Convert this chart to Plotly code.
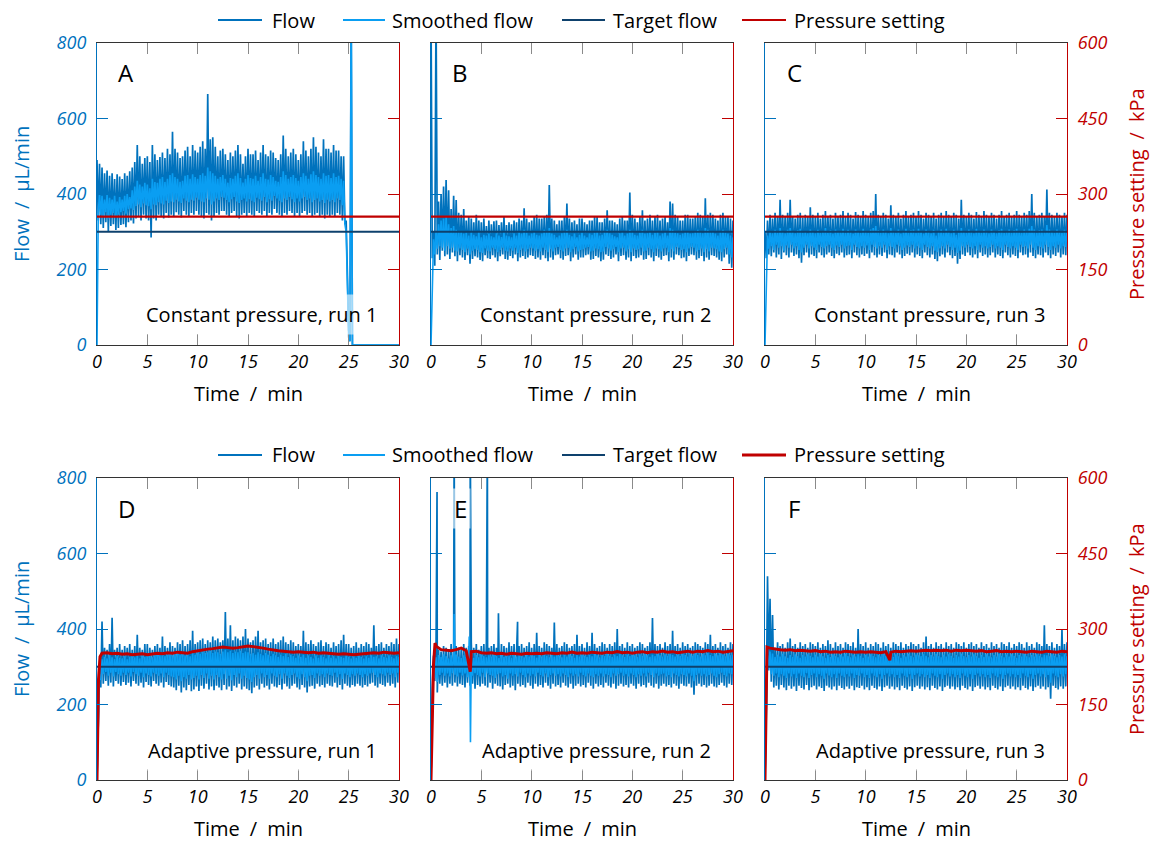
import plotly.graph_objects as go

# ---------------------------------------------------------------------------
# Sampled traces (flow in µL/min, pressure in kPa, time in min).
# Noisy flow signals are stored as alternating peak readings ("hi", every
# 0.25 min from 0) and trough readings ("lo", every 0.25 min from 0.125),
# plus a few isolated spikes ("ev") at their own times.
# ---------------------------------------------------------------------------
t_hi = [0.25 * i for i in range(121)]
t_lo = [0.125 + 0.25 * i for i in range(120)]
t_press = [0.5 * (i + 1) for i in range(60)]
t_span = [0, 30]

# --- A: constant pressure, run 1 ---
a_flow_hi = [490, 480, 470, 455, 462, 448, 455, 440, 452, 446,
             440, 455, 448, 460, 470, 485, 530, 500, 480, 495,
             500, 485, 530, 505, 490, 498, 510, 495, 520, 505,
             565, 520, 510, 495, 500, 515, 525, 500, 530, 515,
             510, 525, 540, 520, 665, 545, 550, 525, 500, 515,
             520, 505, 490, 510, 500, 515, 530, 505, 480, 500,
             520, 505, 505, 515, 490, 510, 530, 505, 500, 515,
             510, 495, 490, 505, 555, 520, 500, 510, 520, 505,
             490, 505, 540, 515, 500, 520, 550, 525, 510, 500,
             545, 520, 520, 510, 530, 515, 515, 500, 500, 330,
             40, 900, 0, 0, 0, 0, 0, 0, 0, 0,
             0, 0, 0, 0, 0, 0, 0, 0, 0, 0, 0]
a_flow_lo = [330, 320, 310, 325, 300, 315, 320, 305, 310, 318,
             320, 312, 325, 330, 322, 335, 340, 330, 345, 335,
             330, 285, 335, 330, 345, 340, 335, 350, 338, 345,
             340, 352, 345, 338, 355, 345, 340, 350, 345, 355,
             345, 340, 335, 350, 345, 330, 340, 350, 345, 355,
             355, 345, 340, 350, 355, 340, 335, 345, 350, 340,
             350, 345, 340, 355, 350, 345, 355, 340, 350, 345,
             360, 350, 345, 340, 350, 345, 355, 350, 340, 350,
             340, 350, 355, 345, 350, 340, 345, 350, 340, 345,
             335, 345, 340, 345, 340, 350, 345, 330, 320, 200,
             10, 0, 0, 0, 0, 0, 0, 0, 0, 0,
             0, 0, 0, 0, 0, 0, 0, 0, 0, 0]
a_smooth_hi = [0, 400, 395, 385, 398, 390, 385, 395, 380, 392,
               385, 395, 400, 392, 410, 420, 435, 425, 420, 430,
               425, 415, 440, 432, 430, 440, 445, 432, 440, 450,
               455, 445, 440, 432, 435, 448, 450, 440, 452, 445,
               440, 450, 455, 448, 470, 460, 455, 448, 440, 445,
               450, 440, 430, 442, 440, 448, 455, 442, 430, 440,
               450, 442, 440, 448, 435, 445, 455, 440, 438, 450,
               445, 435, 432, 445, 460, 450, 440, 445, 450, 442,
               435, 445, 455, 448, 440, 452, 460, 450, 445, 440,
               455, 448, 450, 442, 455, 445, 448, 440, 435, 300,
               20, 900, 0, 0, 0, 0, 0, 0, 0, 0,
               0, 0, 0, 0, 0, 0, 0, 0, 0, 0, 0]
a_smooth_lo = [350, 345, 340, 352, 335, 345, 350, 340, 345, 352,
               355, 348, 360, 362, 358, 368, 372, 365, 375, 370,
               368, 360, 372, 370, 378, 375, 372, 382, 376, 380,
               378, 385, 380, 376, 388, 382, 378, 385, 382, 390,
               385, 380, 378, 388, 385, 372, 380, 388, 384, 392,
               390, 384, 378, 386, 392, 380, 376, 384, 388, 380,
               386, 382, 378, 390, 386, 382, 392, 378, 386, 382,
               395, 388, 382, 378, 388, 384, 392, 386, 378, 388,
               380, 388, 392, 384, 388, 378, 384, 388, 380, 384,
               376, 385, 380, 384, 378, 388, 384, 370, 320, 150,
               10, 0, 0, 0, 0, 0, 0, 0, 0, 0,
               0, 0, 0, 0, 0, 0, 0, 0, 0, 0]

# --- B: constant pressure, run 2 ---
b_flow_hi = [900, 300, 900, 380, 400, 420, 437, 410, 360, 395,
             384, 350, 345, 360, 330, 340, 335, 325, 345, 330,
             325, 335, 315, 330, 320, 328, 330, 318, 325, 340,
             318, 325, 320, 330, 325, 335, 330, 362, 335, 325,
             330, 340, 345, 335, 335, 340, 345, 424, 335, 330,
             320, 330, 330, 340, 375, 335, 325, 330, 320, 335,
             335, 325, 320, 330, 330, 340, 340, 325, 325, 335,
             357, 330, 330, 325, 320, 335, 340, 330, 330, 404,
             345, 335, 325, 340, 357, 330, 335, 345, 330, 340,
             345, 330, 335, 340, 325, 380, 375, 345, 340, 330,
             330, 345, 345, 335, 335, 340, 350, 345, 340, 389,
             345, 350, 345, 335, 330, 345, 350, 340, 340, 335, 330]
b_flow_lo = [230, 210, 240, 225, 250, 235, 240, 228, 245, 235,
             222, 238, 232, 225, 238, 215, 228, 235, 232, 225,
             222, 238, 230, 228, 238, 232, 222, 235, 240, 228,
             226, 236, 230, 240, 222, 232, 236, 228, 232, 238,
             236, 228, 232, 226, 238, 230, 222, 232, 226, 238,
             240, 230, 226, 236, 238, 222, 232, 240, 226, 232,
             232, 238, 240, 226, 228, 236, 232, 222, 226, 240,
             236, 228, 232, 240, 222, 236, 238, 226, 232, 222,
             236, 230, 232, 238, 226, 228, 238, 232, 222, 236,
             232, 226, 236, 238, 222, 232, 226, 240, 238, 230,
             232, 222, 236, 240, 238, 226, 230, 236, 222, 232,
             226, 238, 236, 232, 226, 222, 232, 240, 215, 205]
b_smooth_hi = [0, 280, 300, 320, 330, 335, 340, 320, 310, 315,
               305, 300, 302, 295, 298, 290, 300, 292, 288, 300,
               285, 292, 290, 295, 288, 285, 296, 290, 286, 300,
               290, 288, 285, 296, 290, 300, 295, 305, 298, 290,
               295, 300, 292, 290, 295, 305, 300, 310, 295, 292,
               285, 290, 296, 300, 305, 292, 288, 295, 285, 292,
               298, 290, 285, 295, 292, 298, 300, 290, 292, 300,
               305, 296, 292, 288, 285, 296, 300, 290, 295, 305,
               300, 292, 290, 298, 305, 295, 296, 300, 292, 298,
               300, 290, 295, 300, 290, 310, 305, 298, 296, 292,
               295, 300, 302, 295, 296, 300, 305, 300, 296, 310,
               305, 300, 302, 295, 290, 300, 305, 298, 295, 290, 285]
b_smooth_lo = [150, 240, 255, 262, 258, 250, 262, 255, 258, 250,
               248, 256, 252, 246, 255, 240, 250, 254, 252, 246,
               244, 256, 250, 248, 258, 254, 246, 252, 258, 250,
               248, 256, 250, 258, 244, 252, 256, 248, 254, 258,
               256, 250, 254, 248, 258, 252, 246, 254, 248, 258,
               260, 252, 248, 256, 258, 246, 254, 260, 248, 252,
               254, 258, 260, 248, 250, 256, 254, 246, 248, 260,
               256, 250, 254, 260, 246, 256, 258, 248, 254, 246,
               256, 252, 254, 258, 248, 250, 258, 254, 246, 256,
               254, 248, 256, 258, 246, 254, 248, 260, 258, 252,
               254, 246, 256, 260, 258, 248, 252, 256, 246, 254,
               248, 258, 256, 254, 248, 246, 254, 258, 240, 232]

# --- C: constant pressure, run 3 ---
c_flow_hi = [300, 330, 345, 335, 350, 340, 385, 345, 340, 350,
             385, 340, 335, 345, 350, 338, 345, 340, 365, 345,
             340, 350, 335, 345, 355, 340, 345, 335, 350, 340,
             345, 355, 340, 350, 345, 335, 352, 345, 340, 355,
             345, 340, 350, 355, 400, 345, 340, 350, 345, 335,
             370, 345, 340, 350, 335, 345, 355, 340, 345, 350,
             340, 355, 345, 335, 350, 345, 340, 350, 335, 345,
             350, 340, 355, 345, 340, 350, 345, 335, 385, 345,
             340, 350, 345, 335, 352, 345, 340, 355, 345, 340,
             350, 345, 335, 345, 355, 340, 345, 350, 340, 345,
             355, 345, 340, 350, 345, 355, 400, 350, 340, 345,
             350, 340, 412, 350, 345, 340, 350, 345, 340, 350, 345]
c_flow_lo = [230, 240, 235, 245, 232, 240, 228, 245, 238, 232,
             245, 236, 240, 230, 218, 238, 245, 232, 240, 236,
             230, 245, 238, 232, 240, 245, 236, 230, 242, 238,
             245, 232, 238, 240, 230, 245, 238, 232, 240, 236,
             242, 230, 245, 238, 232, 240, 236, 245, 230, 240,
             238, 232, 245, 240, 230, 236, 242, 238, 245, 232,
             240, 236, 230, 245, 238, 232, 240, 228, 222, 235,
             240, 232, 245, 238, 230, 236, 215, 228, 240, 236,
             245, 238, 232, 240, 230, 245, 236, 240, 232, 238,
             245, 232, 240, 236, 230, 245, 238, 232, 240, 236,
             230, 245, 238, 240, 232, 245, 236, 230, 240, 238,
             232, 245, 238, 230, 240, 236, 245, 232, 240, 238]
c_smooth_hi = [0, 290, 300, 296, 305, 298, 310, 302, 296, 305,
               310, 300, 296, 304, 308, 298, 302, 296, 306, 300,
               296, 305, 298, 302, 310, 298, 304, 295, 306, 300,
               302, 308, 298, 305, 300, 295, 306, 302, 298, 308,
               302, 298, 306, 310, 315, 304, 298, 306, 300, 296,
               310, 302, 298, 306, 295, 302, 308, 298, 304, 306,
               298, 308, 302, 295, 306, 300, 296, 305, 290, 300,
               306, 298, 308, 302, 296, 305, 292, 298, 310, 302,
               298, 306, 302, 296, 308, 302, 298, 306, 300, 296,
               306, 302, 296, 304, 308, 298, 302, 306, 298, 304,
               308, 302, 298, 306, 302, 308, 315, 306, 298, 304,
               306, 300, 318, 306, 302, 298, 306, 302, 298, 305, 300]
c_smooth_lo = [120, 255, 262, 252, 266, 258, 262, 250, 264, 258,
               266, 256, 262, 252, 245, 258, 266, 256, 262, 258,
               252, 266, 260, 256, 262, 266, 258, 252, 264, 260,
               266, 256, 262, 264, 252, 266, 260, 256, 262, 258,
               264, 252, 266, 260, 256, 262, 258, 266, 252, 262,
               260, 256, 266, 262, 252, 258, 264, 260, 266, 256,
               262, 258, 252, 266, 260, 256, 262, 250, 246, 256,
               262, 256, 266, 260, 252, 258, 244, 250, 262, 258,
               266, 260, 256, 262, 252, 266, 258, 262, 256, 260,
               266, 256, 262, 258, 252, 266, 260, 256, 262, 258,
               252, 266, 260, 262, 256, 266, 258, 252, 262, 260,
               256, 266, 260, 252, 262, 258, 266, 256, 262, 260]

# --- D: adaptive pressure, run 1 ---
d_flow_hi = [0, 300, 420, 350, 345, 360, 430, 345, 350, 360,
             345, 355, 350, 360, 345, 355, 385, 350, 345, 360,
             360, 350, 345, 355, 360, 350, 380, 355, 350, 365,
             355, 350, 365, 360, 370, 355, 360, 370, 395, 360,
             365, 370, 375, 360, 370, 365, 380, 370, 375, 365,
             370, 445, 375, 410, 370, 380, 375, 370, 380, 400,
             375, 365, 370, 380, 395, 365, 370, 375, 360, 365,
             375, 360, 365, 370, 380, 365, 360, 370, 365, 355,
             360, 355, 395, 365, 360, 370, 360, 355, 365, 370,
             355, 365, 360, 350, 365, 355, 360, 370, 385, 360,
             360, 350, 355, 365, 350, 360, 355, 365, 360, 350,
             410, 355, 360, 365, 350, 360, 355, 365, 360, 375, 360]
d_flow_lo = [200, 245, 255, 262, 250, 258, 248, 262, 255, 250,
             260, 252, 258, 248, 262, 255, 250, 258, 245, 260,
             252, 248, 262, 255, 250, 258, 245, 260, 252, 248,
             245, 238, 250, 232, 245, 238, 252, 235, 240, 248,
             236, 250, 242, 255, 240, 248, 238, 250, 245, 238,
             252, 240, 248, 236, 250, 245, 255, 240, 248, 242,
             238, 230, 245, 250, 240, 255, 245, 250, 240, 255,
             248, 245, 252, 240, 255, 248, 242, 250, 255, 245,
             240, 252, 245, 232, 248, 250, 242, 255, 248, 252,
             245, 255, 250, 248, 258, 245, 252, 240, 255, 250,
             245, 252, 248, 255, 250, 245, 252, 248, 255, 258,
             250, 245, 255, 252, 248, 258, 250, 255, 245, 258]
d_smooth_hi = [0, 280, 320, 326, 322, 330, 325, 320, 328, 324,
               322, 328, 320, 326, 332, 325, 330, 322, 330, 326,
               334, 330, 325, 332, 336, 330, 334, 328, 332, 336,
               330, 334, 338, 332, 336, 330, 334, 328, 336, 332,
               338, 334, 340, 336, 338, 342, 336, 340, 338, 334,
               340, 345, 338, 342, 336, 340, 338, 342, 336, 340,
               338, 334, 336, 332, 338, 334, 330, 336, 332, 328,
               334, 330, 326, 332, 328, 334, 326, 332, 328, 324,
               330, 326, 332, 324, 330, 326, 322, 330, 324, 330,
               326, 322, 330, 324, 328, 322, 330, 326, 324, 330,
               326, 322, 328, 324, 330, 326, 322, 328, 324, 330,
               326, 328, 322, 330, 326, 324, 330, 326, 322, 328, 326]
d_smooth_lo = [150, 265, 280, 286, 276, 284, 274, 286, 280, 276,
               284, 278, 284, 274, 286, 280, 276, 284, 272, 282,
               278, 274, 284, 280, 276, 282, 272, 284, 278, 274,
               272, 266, 276, 262, 272, 268, 278, 266, 270, 276,
               266, 278, 270, 282, 268, 276, 266, 278, 272, 266,
               280, 268, 276, 264, 278, 272, 282, 268, 276, 270,
               266, 260, 272, 278, 268, 282, 272, 278, 268, 282,
               276, 272, 280, 268, 282, 276, 270, 278, 282, 272,
               268, 280, 272, 262, 276, 278, 270, 282, 276, 280,
               272, 282, 278, 276, 284, 272, 280, 268, 282, 278,
               272, 280, 276, 282, 278, 272, 280, 276, 282, 284,
               278, 272, 282, 280, 276, 284, 278, 282, 272, 284]
d_press = [252, 253, 251, 252, 250, 251, 249, 250, 251, 249,
           250, 252, 251, 253, 252, 254, 253, 252, 255, 257,
           258, 260, 261, 263, 264, 263, 262, 263, 265, 266,
           265, 264, 262, 260, 258, 257, 256, 255, 254, 255,
           254, 253, 254, 252, 253, 252, 251, 250, 251, 250,
           249, 250, 251, 252, 253, 252, 254, 253, 252, 253]
d_press_ev_t = [0.0, 0.15, 0.3]
d_press_ev_v = [0, 200, 245]

# --- E: adaptive pressure, run 2 ---
e_flow_hi = [0, 330, 350, 345, 340, 355, 350, 345, 360, 340,
             355, 350, 345, 360, 350, 355, 365, 350, 360, 345,
             355, 360, 365, 350, 355, 360, 350, 345, 360, 355,
             350, 365, 355, 360, 345, 355, 360, 350, 355, 365,
             350, 360, 390, 355, 350, 365, 360, 355, 350, 417,
             360, 350, 355, 365, 360, 350, 355, 360, 385, 355,
             360, 350, 365, 355, 390, 360, 350, 355, 365, 360,
             350, 360, 355, 365, 400, 355, 360, 350, 365, 355,
             360, 350, 355, 365, 360, 350, 355, 365, 429, 360,
             355, 360, 350, 365, 355, 360, 395, 355, 360, 350,
             365, 355, 360, 350, 355, 365, 360, 355, 350, 365,
             360, 385, 355, 360, 350, 365, 355, 360, 350, 365, 360]
e_flow_lo = [240, 262, 232, 255, 250, 258, 245, 255, 250, 258,
             248, 255, 252, 245, 258, 250, 255, 242, 252, 248,
             255, 250, 245, 258, 242, 255, 250, 248, 240, 252,
             255, 245, 250, 238, 255, 248, 252, 245, 258, 250,
             242, 255, 248, 252, 245, 258, 250, 242, 255, 248,
             252, 245, 258, 250, 245, 255, 242, 250, 255, 248,
             252, 245, 258, 250, 242, 255, 248, 252, 245, 258,
             250, 245, 255, 242, 250, 255, 248, 252, 245, 255,
             250, 242, 255, 248, 252, 245, 258, 250, 245, 255,
             242, 250, 255, 248, 252, 245, 255, 250, 242, 255,
             250, 248, 255, 245, 226, 250, 255, 248, 252, 245,
             250, 255, 248, 245, 252, 258, 250, 245, 255, 252]
e_flow_ev_t = [0.6, 2.3, 3.9, 5.6, 6.7, 8.6]
e_flow_ev_v = [763, 900, 900, 900, 442, 419]
e_smooth_hi = [0, 300, 325, 331, 326, 333, 328, 322, 330, 325,
               332, 327, 323, 330, 326, 334, 328, 324, 331, 325,
               333, 328, 325, 330, 327, 334, 329, 323, 331, 326,
               332, 328, 324, 331, 327, 333, 328, 325, 332, 327,
               334, 329, 324, 331, 327, 333, 329, 325, 331, 327,
               334, 329, 325, 332, 327, 333, 329, 324, 331, 327,
               333, 329, 326, 331, 328, 334, 330, 325, 332, 328,
               334, 329, 326, 332, 328, 335, 330, 326, 332, 328,
               334, 330, 326, 333, 329, 335, 330, 326, 332, 328,
               335, 330, 327, 333, 329, 335, 331, 327, 333, 329,
               335, 331, 327, 333, 329, 336, 331, 327, 334, 330,
               336, 331, 328, 334, 330, 336, 332, 328, 334, 330, 332]
e_smooth_lo = [150, 270, 260, 278, 284, 276, 282, 274, 283, 279,
               274, 284, 277, 282, 272, 280, 276, 283, 278, 274,
               284, 272, 282, 278, 276, 270, 280, 283, 274, 278,
               268, 282, 276, 280, 274, 284, 278, 272, 282, 276,
               280, 274, 284, 278, 274, 282, 272, 278, 282, 276,
               280, 274, 282, 278, 272, 282, 276, 280, 274, 284,
               278, 274, 282, 276, 272, 280, 276, 282, 274, 280,
               278, 272, 282, 276, 280, 284, 276, 280, 274, 282,
               278, 272, 280, 276, 282, 274, 284, 278, 272, 282,
               276, 280, 282, 274, 278, 272, 282, 278, 274, 280,
               278, 274, 282, 276, 262, 278, 282, 276, 280, 274,
               278, 282, 276, 272, 280, 284, 278, 274, 282, 280]
e_smooth_ev_t = [2.3, 3.8, 3.92]
e_smooth_ev_v = [440, 380, 100]
e_press = [266, 259, 258, 257, 259, 262, 257, 255, 256, 253,
           252, 253, 251, 252, 250, 252, 251, 250, 252, 251,
           252, 251, 253, 252, 251, 253, 252, 254, 252, 253,
           252, 254, 253, 252, 254, 253, 255, 253, 254, 252,
           254, 255, 253, 255, 254, 256, 254, 255, 253, 255,
           256, 254, 256, 255, 257, 255, 256, 254, 256, 257]
e_press_ev_t = [0.0, 0.25, 0.4, 3.9]
e_press_ev_v = [0, 230, 272, 215]

# --- F: adaptive pressure, run 3 ---
f_flow_hi = [0, 540, 480, 437, 350, 365, 355, 360, 350, 365,
             375, 355, 360, 350, 365, 355, 360, 350, 365, 360,
             355, 365, 350, 360, 355, 370, 360, 350, 365, 355,
             360, 350, 365, 360, 355, 365, 350, 400, 360, 355,
             365, 350, 360, 355, 365, 360, 350, 365, 355, 360,
             350, 365, 360, 355, 365, 350, 360, 355, 365, 360,
             355, 360, 350, 365, 380, 355, 360, 350, 365, 355,
             360, 350, 365, 355, 360, 350, 365, 360, 355, 365,
             350, 360, 365, 355, 360, 350, 365, 355, 360, 350,
             365, 355, 360, 350, 365, 360, 355, 365, 350, 360,
             355, 365, 360, 350, 365, 355, 360, 350, 365, 360,
             355, 410, 360, 355, 365, 350, 360, 355, 400, 360, 365]
f_flow_lo = [200, 300, 260, 245, 250, 240, 252, 245, 238, 250,
             242, 248, 236, 250, 244, 240, 252, 238, 246, 250,
             240, 248, 244, 236, 250, 245, 240, 248, 238, 250,
             244, 240, 248, 242, 250, 238, 246, 244, 250, 240,
             246, 238, 250, 244, 240, 248, 236, 246, 250, 242,
             248, 240, 246, 238, 250, 244, 240, 248, 236, 246,
             250, 242, 248, 240, 246, 238, 250, 244, 240, 248,
             236, 246, 250, 242, 248, 240, 246, 238, 250, 244,
             240, 248, 236, 246, 250, 242, 248, 240, 246, 238,
             250, 244, 240, 248, 236, 246, 250, 242, 248, 240,
             246, 238, 250, 244, 240, 248, 236, 246, 250, 242,
             248, 240, 246, 215, 250, 244, 240, 248, 242, 248]
f_smooth_hi = [0, 330, 340, 335, 326, 332, 327, 334, 328, 324,
               331, 326, 333, 328, 324, 331, 327, 333, 329, 325,
               332, 327, 333, 328, 324, 331, 326, 333, 328, 325,
               331, 327, 334, 328, 325, 332, 327, 333, 329, 324,
               331, 327, 333, 328, 325, 331, 327, 334, 329, 325,
               331, 326, 333, 328, 324, 331, 327, 334, 329, 325,
               332, 330, 328, 333, 329, 325, 331, 327, 334, 328,
               325, 332, 327, 333, 329, 324, 331, 327, 334, 328,
               325, 331, 327, 333, 328, 324, 331, 326, 333, 328,
               325, 331, 327, 334, 329, 325, 332, 327, 333, 329,
               324, 331, 327, 334, 328, 325, 331, 327, 333, 329,
               325, 332, 330, 328, 333, 329, 325, 331, 327, 333, 328]
f_smooth_lo = [150, 290, 280, 276, 282, 272, 280, 276, 270, 282,
               274, 280, 270, 282, 276, 272, 283, 270, 278, 282,
               272, 280, 276, 268, 282, 277, 272, 280, 270, 282,
               276, 272, 280, 274, 282, 270, 278, 276, 282, 272,
               278, 270, 282, 276, 272, 280, 268, 278, 282, 274,
               280, 272, 278, 270, 282, 276, 272, 280, 268, 278,
               282, 274, 280, 272, 278, 270, 282, 276, 272, 280,
               268, 278, 282, 274, 280, 272, 278, 270, 282, 276,
               272, 280, 268, 278, 282, 274, 280, 272, 278, 270,
               282, 276, 272, 280, 268, 278, 282, 274, 280, 272,
               278, 270, 282, 276, 272, 280, 268, 278, 282, 274,
               280, 272, 278, 258, 282, 276, 272, 280, 274, 280]
f_press = [262, 260, 259, 258, 259, 257, 258, 257, 256, 257,
           255, 256, 254, 255, 254, 256, 255, 254, 255, 254,
           255, 254, 253, 255, 254, 256, 255, 256, 257, 256,
           257, 258, 257, 258, 257, 258, 256, 258, 257, 258,
           257, 256, 257, 255, 256, 257, 255, 256, 255, 256,
           255, 254, 256, 255, 254, 256, 255, 254, 256, 255]
f_press_ev_t = [0.0, 0.1, 0.2, 12.4]
f_press_ev_v = [0, 150, 264, 238]

target_flow = [300, 300, 300, 300, 300, 300]      # µL/min, per panel
const_pressure = [255, 255, 255]                  # kPa, runs A-C

panel_letters = ["A", "B", "C", "D", "E", "F"]
panel_titles = ["Constant pressure, run 1", "Constant pressure, run 2",
                "Constant pressure, run 3", "Adaptive pressure, run 1",
                "Adaptive pressure, run 2", "Adaptive pressure, run 3"]
time_ticks = [0, 5, 10, 15, 20, 25, 30]
flow_ticks = [0, 200, 400, 600, 800]
press_ticks = [0, 150, 300, 450, 600]
legend_names = ["Flow", "Smoothed flow", "Target flow", "Pressure setting"]

# ---------------------------------------------------------------------------
FONT = "Open Sans"
C_FLOW = "#0072BD"
C_SMOOTH = "#0A9EF2"
C_TARGET = "#0E416D"
C_PRESS = "#C00000"
C_FRAME = "#333333"
C_XTICK = "#8A8A8A"
SERIES_COLORS = [C_FLOW, C_SMOOTH, C_TARGET, C_PRESS]

W, H = 1152, 841
COL_LEFT = [97, 431, 765]
ROW_TOP = [43, 478]
PW, PH = 302, 302
# legend rows: sample start / end and label start (px), centre line per row
LEG_SAMPLE = [(218, 262), (343, 385), (562, 605), (742, 786)]
LEG_TEXT_X = [270, 390, 611, 792]
LEG_Y = [20, 455]


def fx(px):
    return px / W


def fy(py):
    return 1 - py / H


def merge(hi, lo, ev_t=(), ev_v=()):
    assert len(hi) == len(t_hi) and len(lo) == len(t_lo)
    pts = list(zip(t_hi, hi)) + list(zip(t_lo, lo)) + list(zip(ev_t, ev_v))
    pts.sort(key=lambda p: p[0])
    return [p[0] for p in pts], [p[1] for p in pts]


def press_series(vals, ev_t, ev_v):
    assert len(vals) == len(t_press)
    pts = list(zip(t_press, vals)) + list(zip(ev_t, ev_v))
    pts.sort(key=lambda p: p[0])
    return [p[0] for p in pts], [p[1] for p in pts]


flows = [
    merge(a_flow_hi, a_flow_lo),
    merge(b_flow_hi, b_flow_lo),
    merge(c_flow_hi, c_flow_lo),
    merge(d_flow_hi, d_flow_lo),
    merge(e_flow_hi, e_flow_lo, e_flow_ev_t, e_flow_ev_v),
    merge(f_flow_hi, f_flow_lo),
]
smooths = [
    merge(a_smooth_hi, a_smooth_lo),
    merge(b_smooth_hi, b_smooth_lo),
    merge(c_smooth_hi, c_smooth_lo),
    merge(d_smooth_hi, d_smooth_lo),
    merge(e_smooth_hi, e_smooth_lo, e_smooth_ev_t, e_smooth_ev_v),
    merge(f_smooth_hi, f_smooth_lo),
]
pressures = [
    (t_span, [const_pressure[0]] * 2),
    (t_span, [const_pressure[1]] * 2),
    (t_span, [const_pressure[2]] * 2),
    press_series(d_press, d_press_ev_t, d_press_ev_v),
    press_series(e_press, e_press_ev_t, e_press_ev_v),
    press_series(f_press, f_press_ev_t, f_press_ev_v),
]

fig = go.Figure()
layout = {}
annotations = []
shapes = []

for k in range(6):
    row, col = divmod(k, 3)
    n = k + 1
    xs = "" if n == 1 else str(n)
    xid, yid, y2id = "x" + xs, "y" + xs, "y" + str(n + 6)
    left, top = COL_LEFT[col], ROW_TOP[row]

    fig.add_trace(go.Scatter(x=flows[k][0], y=flows[k][1], xaxis=xid, yaxis=yid,
                             mode="lines", name=legend_names[0],
                             line=dict(color=C_FLOW, width=1.7),
                             showlegend=False, hoverinfo="skip"))
    fig.add_trace(go.Scatter(x=smooths[k][0], y=smooths[k][1], xaxis=xid, yaxis=yid,
                             mode="lines", name=legend_names[1],
                             line=dict(color=C_SMOOTH, width=1.6),
                             showlegend=False, hoverinfo="skip"))
    fig.add_trace(go.Scatter(x=t_span, y=[target_flow[k]] * 2, xaxis=xid, yaxis=yid,
                             mode="lines", name=legend_names[2],
                             line=dict(color=C_TARGET, width=2),
                             showlegend=False, hoverinfo="skip"))
    fig.add_trace(go.Scatter(x=pressures[k][0], y=pressures[k][1], xaxis=xid, yaxis=y2id,
                             mode="lines", name=legend_names[3],
                             line=dict(color=C_PRESS, width=2.2 if row == 0 else 3),
                             showlegend=False, hoverinfo="skip"))

    layout["xaxis" + xs] = dict(
        domain=[fx(left), fx(left + PW)], anchor=yid, range=[0, 30],
        tickvals=time_ticks, ticks="inside", ticklen=11, tickwidth=1,
        tickcolor=C_XTICK, showline=True, linecolor=C_FRAME, linewidth=1.2,
        mirror="ticks", showgrid=False, zeroline=False, automargin=False,
        ticklabelstandoff=0,
        tickfont=dict(family=FONT, size=18, color="black", style="italic"),
    )
    layout["yaxis" + xs] = dict(
        domain=[fy(top + PH), fy(top)], anchor=xid, range=[0, 800],
        tickvals=flow_ticks, ticks="inside", ticklen=11, tickwidth=1,
        tickcolor=C_FLOW, showline=True, linecolor=C_FLOW, linewidth=1.2,
        showgrid=False, zeroline=False, showticklabels=(col == 0),
        automargin=False, ticklabelstandoff=6,
        tickfont=dict(family=FONT, size=18, color=C_FLOW, style="italic"),
    )
    layout["yaxis" + str(n + 6)] = dict(
        overlaying=yid, anchor=xid, side="right", range=[0, 600],
        tickvals=press_ticks, ticks="inside", ticklen=11, tickwidth=1,
        tickcolor=C_PRESS, showline=True, linecolor=C_PRESS, linewidth=1.2,
        showgrid=False, zeroline=False, showticklabels=(col == 2),
        automargin=False, ticklabelstandoff=6,
        tickfont=dict(family=FONT, size=18, color=C_PRESS, style="italic"),
    )

    annotations.append(dict(
        text=panel_letters[k], x=fx(left + 29), y=fy(top + 30), xref="paper",
        yref="paper", xanchor="center", yanchor="middle", showarrow=False,
        font=dict(family=FONT, size=24, color="black"),
        bgcolor="rgba(255,255,255,0.6)", borderpad=3))
    annotations.append(dict(
        text=panel_titles[k], x=fx(left + 287), y=fy(top + 272), xref="paper",
        yref="paper", xanchor="right", yanchor="middle", showarrow=False,
        font=dict(family=FONT, size=20, color="black"),
        bgcolor="rgba(255,255,255,0.6)", borderpad=6))
    annotations.append(dict(
        text="Time\u2002/\u2002min", x=fx(left + PW / 2), y=fy(top + 350),
        xref="paper", yref="paper", xanchor="center", yanchor="middle",
        showarrow=False, font=dict(family=FONT, size=20, color="black")))

for row in range(2):
    top = ROW_TOP[row]
    annotations.append(dict(
        text="Flow\u2002/\u2002µL/min", x=fx(21), y=fy(top + PH / 2),
        xref="paper", yref="paper", xanchor="center", yanchor="middle",
        textangle=-90, showarrow=False,
        font=dict(family=FONT, size=20, color=C_FLOW)))
    annotations.append(dict(
        text="Pressure setting\u2002/\u2002kPa", x=fx(1136), y=fy(top + PH / 2),
        xref="paper", yref="paper", xanchor="center", yanchor="middle",
        textangle=-90, showarrow=False,
        font=dict(family=FONT, size=20, color=C_PRESS)))

    # legend row: line sample + label per series
    for j, name in enumerate(legend_names):
        x0, x1 = LEG_SAMPLE[j]
        lw = 3 if (row == 1 and j == 3) else 2.2
        shapes.append(dict(type="line", xref="paper", yref="paper",
                           x0=fx(x0), x1=fx(x1), y0=fy(LEG_Y[row]), y1=fy(LEG_Y[row]),
                           line=dict(color=SERIES_COLORS[j], width=lw)))
        annotations.append(dict(
            text=name, x=fx(LEG_TEXT_X[j]), y=fy(LEG_Y[row]), xref="paper",
            yref="paper", xanchor="left", yanchor="middle", showarrow=False,
            font=dict(family=FONT, size=20, color="black")))

fig.update_layout(
    width=W, height=H,
    margin=dict(l=0, r=0, t=0, b=0, pad=0, autoexpand=False),
    paper_bgcolor="white", plot_bgcolor="white",
    hovermode=False, showlegend=False,
    annotations=annotations, shapes=shapes,
    **layout,
)

fig.write_html("out.html")
